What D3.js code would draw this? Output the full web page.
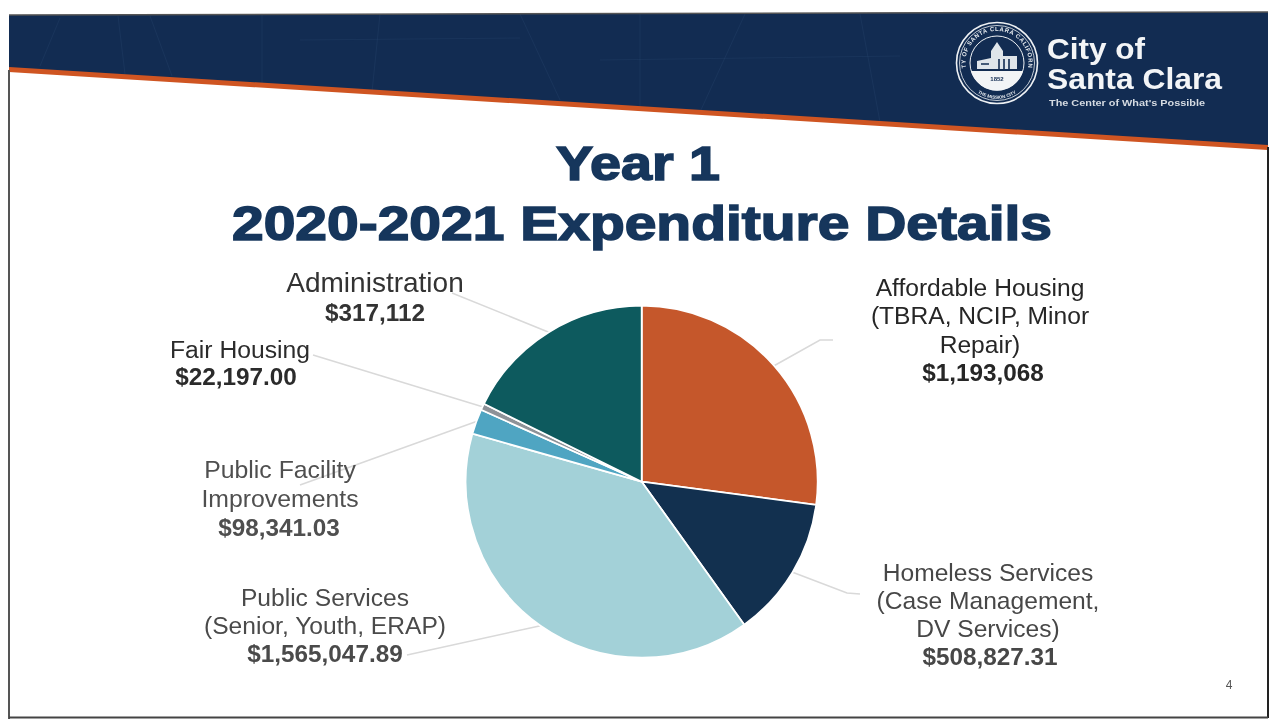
<!DOCTYPE html>
<html>
<head>
<meta charset="utf-8">
<title>Year 1 2020-2021 Expenditure Details</title>
<script src="https://cdn.jsdelivr.net/npm/d3@7"></script>
<style>
  html,body{margin:0;padding:0;background:#fff;}
  svg{display:block;font-family:"Liberation Sans",Arial,sans-serif;filter:blur(0.4px);}
</style>
</head>
<body>
<svg id="slide" width="1274" height="719"></svg>
<script>
// Slice order runs clockwise from 12 o'clock, same as the slide
const categories = ['Affordable Housing','Homeless Services','Public Services','Public Facility Improvements','Fair Housing','Administration'];
// Shares (%). The printed dollar amounts do not add up to these angles
const shares = [27.1,13.0,39.3,2.3,0.6,17.7];
const amounts = ['$1,193,068','$508,827.31','$1,565,047.89','$98,341.03','$22,197.00','$317,112'];
const labelLines = [
  ['Affordable Housing','(TBRA, NCIP, Minor','Repair)'],
  ['Homeless Services','(Case Management,','DV Services)'],
  ['Public Services','(Senior, Youth, ERAP)'],
  ['Public Facility','Improvements'],
  ['Fair Housing'],
  ['Administration']
];
const sliceColors = ['#c5572b','#12304f','#a3d1d8','#4fa5c2','#8d9298','#0d5a5e'];

// Layout, per category: [center x, first baseline, line step, text colour, name size]
const labelPos = [
  [980,296,28.3,'#262626',24.6],
  [988,581,28,'#474747',24.6],
  [325,606,28,'#4a4a4a',24.6],
  [280,478,29,'#4f4f4f',24.8],
  [240,358,27,'#2b2b2b',24.7],
  [375,292,29,'#333333',28]
];
const amountX = [983,990,325,279,236,375];
// far end of each leader, the near end comes from the arc
const leaderEnds = [
  [[820,340],[833,340]],
  [[847,593],[860,594]],
  [[407,655]],
  [[300,485]],
  [[313,355]],
  [[452,293]]
];

const cx = 641.7, cy = 481.7, radius = 176;
const svg = d3.select('#slide');

function drawHeader(){
  const g = svg.append('g');
  g.append('path').attr('d','M9,15 L1268,12 L1268,147 L9,69 Z').attr('fill','#122c52');
  // faint street map texture in the band
  const streets = ['M60,18 L40,66','M118,16 L125,74','M150,16 L172,76','M262,14 L262,84','M380,14 L372,92','M520,14 L560,100','M640,14 L640,107','M745,14 L700,112','M860,14 L880,122','M300,40 L520,38','M600,60 L900,56'];
  g.selectAll('path.street').data(streets).enter().append('path').attr('class','street')
    .attr('d',d=>d).attr('stroke','#2b4a72').attr('stroke-width',1).attr('fill','none').attr('opacity',0.3);
  g.append('line').attr('x1',9).attr('y1',69.5).attr('x2',1268).attr('y2',147.5).attr('stroke','#cf5522').attr('stroke-width',5);
  // scan edge of the slide
  g.append('path').attr('d','M9,15 L1268,12').attr('stroke','#555').attr('stroke-width',1.5).attr('fill','none');
  g.append('path').attr('d','M9,70 L9,719').attr('stroke','#555').attr('stroke-width',2).attr('fill','none');
  g.append('path').attr('d','M1268,147 L1268,718').attr('stroke','#222').attr('stroke-width',2).attr('fill','none');
  g.append('path').attr('d','M9,717.5 L1268,717.5').attr('stroke','#444').attr('stroke-width',2).attr('fill','none');
}

function drawLogo(){
  const g = svg.append('g').attr('transform','translate(997,63)');
  g.append('circle').attr('r',40.5).attr('fill','none').attr('stroke','#eef1f4').attr('stroke-width',1.6);
  g.append('circle').attr('r',37.5).attr('fill','none').attr('stroke','#eef1f4').attr('stroke-width',0.8);
  g.append('circle').attr('r',27).attr('fill','none').attr('stroke','#eef1f4').attr('stroke-width',1);
  g.append('path').attr('d','M-26,8 A27,27 0 0 0 26,8 Z').attr('fill','#f2f4f6');
  g.append('path').attr('d','M-20,6 L-20,-2 L-6,-5 L-6,-12 L0,-21 L6,-12 L6,-7 L20,-7 L20,6 Z').attr('fill','#dfe5ea');
  g.append('path').attr('d','M2,6 L2,-4 M7,6 L7,-4 M12,6 L12,-4 M-16,1 L-8,1').attr('stroke','#122c52').attr('stroke-width',1.6);
  g.append('text').attr('y',18).attr('text-anchor','middle').attr('font-size',6).attr('font-weight','bold').attr('fill','#122c52').text('1852');
  g.append('defs').append('path').attr('id','sealTop').attr('d','M-31,5 A31.5,31.5 0 1 1 31,5');
  g.append('text').attr('font-size',6).attr('font-weight','bold').attr('fill','#e6eaee').attr('letter-spacing',0.6)
    .append('textPath').attr('href','#sealTop').attr('startOffset','50%').attr('text-anchor','middle').text('CITY OF SANTA CLARA CALIFORNIA');
  g.append('defs').append('path').attr('id','sealBot').attr('d','M-33,10 A34,34 0 0 0 33,10');
  g.append('text').attr('font-size',4.5).attr('font-weight','bold').attr('fill','#e6eaee')
    .append('textPath').attr('href','#sealBot').attr('startOffset','50%').attr('text-anchor','middle').text('THE MISSION CITY');

  const words = svg.append('g').attr('fill','#f3f5f7').attr('font-weight','bold');
  words.append('text').attr('x',1047).attr('y',59).attr('font-size',30).attr('textLength',98).attr('lengthAdjust','spacingAndGlyphs').text('City of');
  words.append('text').attr('x',1047).attr('y',89).attr('font-size',30).attr('textLength',175).attr('lengthAdjust','spacingAndGlyphs').text('Santa Clara');
  words.append('text').attr('x',1049).attr('y',106).attr('font-size',9).attr('fill','#d5dbe2').attr('textLength',156).attr('lengthAdjust','spacingAndGlyphs').text("The Center of What's Possible");
}

function drawTitle(){
  const g = svg.append('g').attr('fill','#16365c').attr('stroke','#16365c').attr('stroke-width',1.6)
    .attr('font-weight','bold').attr('font-size',49);
  g.append('text').attr('x',556).attr('y',180).attr('textLength',164).attr('lengthAdjust','spacingAndGlyphs').text('Year 1');
  g.append('text').attr('x',232).attr('y',240).attr('textLength',820).attr('lengthAdjust','spacingAndGlyphs').text('2020-2021 Expenditure Details');
}

function drawPie(){
  const color = d3.scaleOrdinal().domain(categories).range(sliceColors);
  const pie = d3.pie().sort(null).value(d=>d.share);
  const arc = d3.arc().innerRadius(0).outerRadius(radius);
  const rows = categories.map((c,i)=>({name:c,share:shares[i],i}));
  const arcs = pie(rows);

  const line = d3.line();
  const rim = d3.arc().innerRadius(radius).outerRadius(radius);
  svg.append('g').attr('class','leaders').selectAll('path').data(arcs).enter().append('path')
    .attr('d',d=>{
      const p = rim.centroid(d);
      return line([[cx+p[0],cy+p[1]]].concat(leaderEnds[d.data.i]));
    })
    .attr('fill','none').attr('stroke','#d9d9d9').attr('stroke-width',1.5);

  svg.append('g').attr('transform',`translate(${cx},${cy})`).selectAll('path').data(arcs).enter().append('path')
    .attr('d',arc).attr('fill',d=>color(d.data.name)).attr('stroke','#fff').attr('stroke-width',1.8).attr('stroke-linejoin','round');
}

function drawLabels(){
  const g = svg.append('g').attr('text-anchor','middle');
  categories.forEach((c,i)=>{
    const [x,y,step,fill,size] = labelPos[i];
    labelLines[i].forEach((t,k)=>{
      g.append('text').attr('x',x).attr('y',y+k*step).attr('font-size',size).attr('fill',fill).text(t);
    });
    g.append('text').attr('x',amountX[i]).attr('y',y+labelLines[i].length*step)
      .attr('font-size',24.3).attr('font-weight','bold').attr('fill',fill).text(amounts[i]);
  });
  svg.append('text').attr('x',1229).attr('y',689).attr('text-anchor','middle').attr('font-size',12).attr('fill','#555').text('4');
}

drawHeader();
drawLogo();
drawTitle();
drawPie();
drawLabels();
</script>
</body>
</html>
